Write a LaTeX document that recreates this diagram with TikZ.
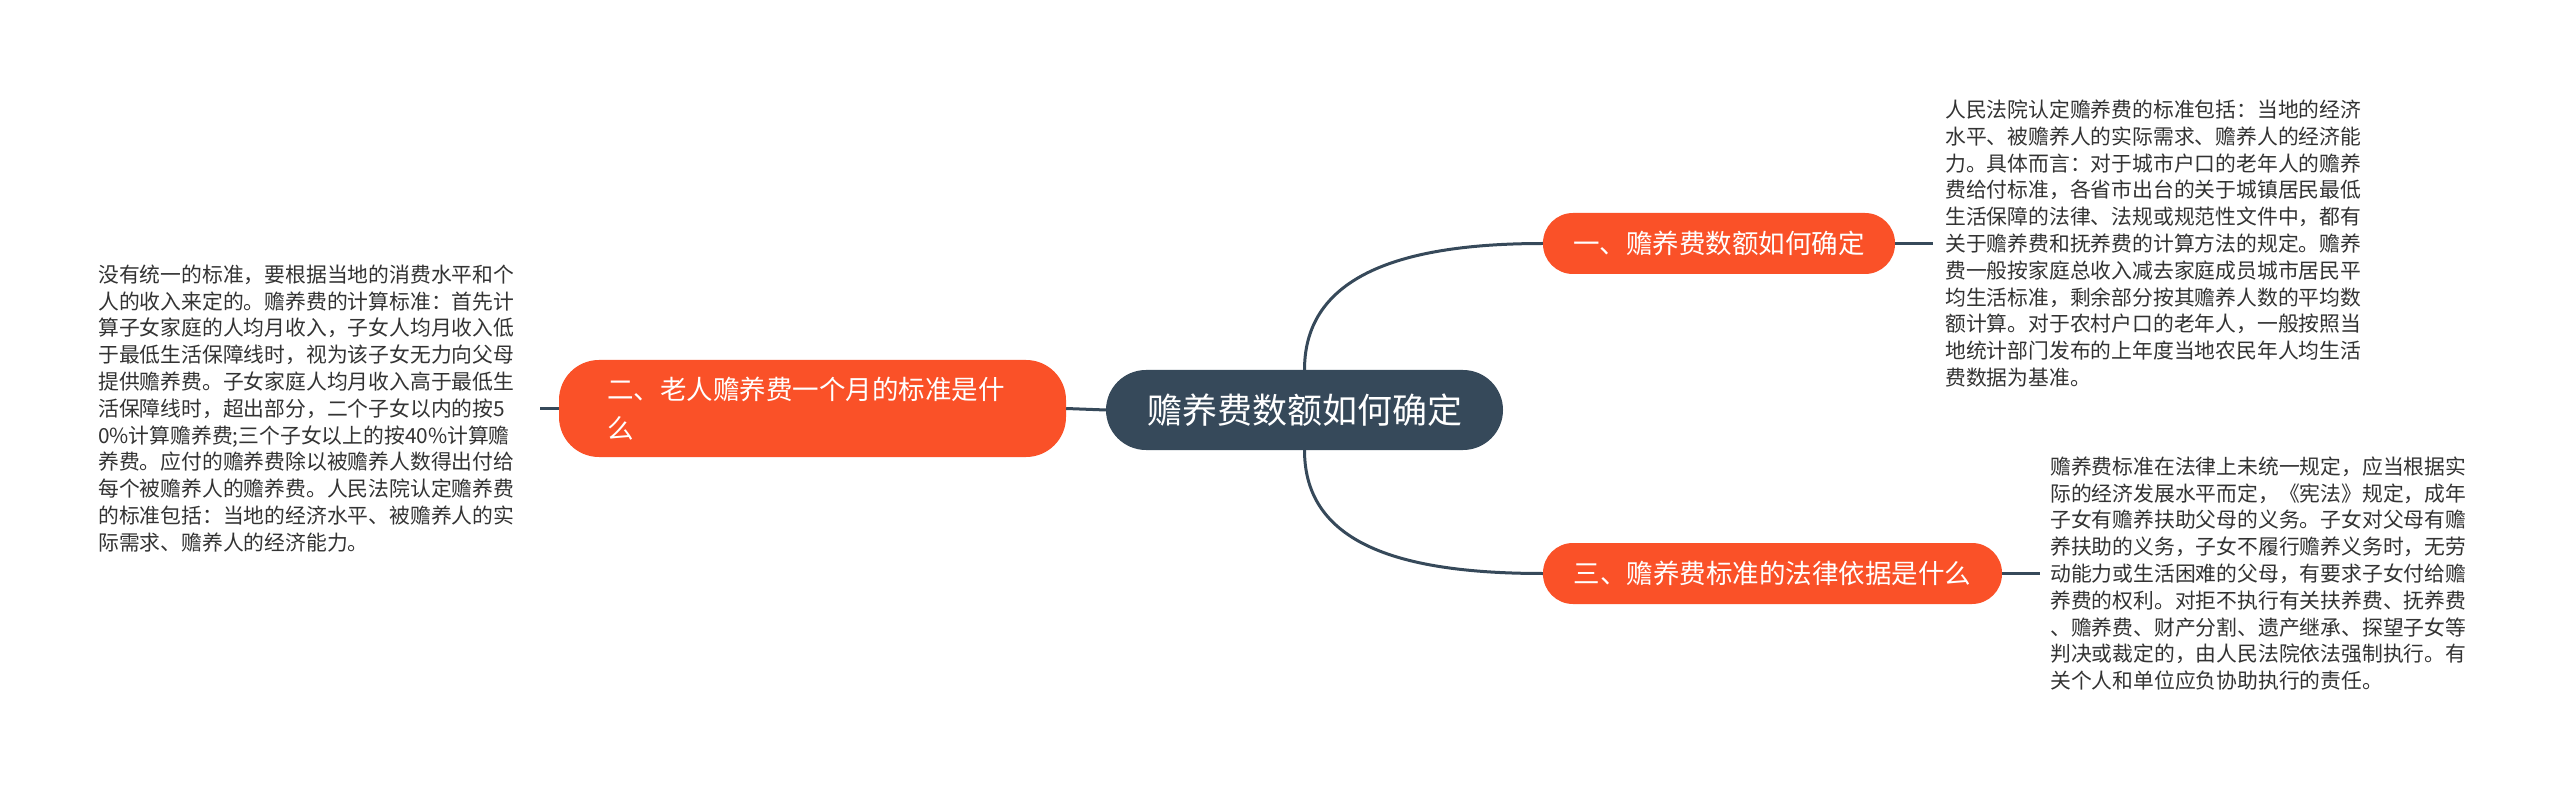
\documentclass[tikz,border=0pt]{standalone}
\usepackage{fontspec}
\newfontfamily\cjk{Noto Sans CJK SC}
\definecolor{dark}{HTML}{36495A}
\definecolor{orng}{HTML}{FA5128}
\definecolor{txt}{HTML}{333333}
\begin{document}
\begin{tikzpicture}[x=1pt,y=-1pt,
  conn/.style={draw=dark,line width=3pt},
  topic/.style={fill=orng,text=white,rounded corners=30pt,inner sep=0pt,
    font=\cjk\fontsize{26.5}{36}\selectfont,minimum height=61pt},
  desc/.style={text=txt,align=left,inner sep=0pt,
    font=\cjk\fontsize{20.8}{26.8}\selectfont}]
\fill[white] (0,0) rectangle (2560,791);
\useasboundingbox (0,0) rectangle (2560,791);

\node[fill=dark, rounded corners=40pt, minimum width=397pt, minimum height=80pt,
  inner sep=0pt, text=white, font=\cjk\fontsize{35}{40}\selectfont] (c) at (1304.5,410) {赡养费数额如何确定};

\node[topic, minimum width=352pt] (n1) at (1719,243.5) {一、赡养费数额如何确定};
\node[topic, minimum width=459pt] (n3) at (1772.5,573.5) {三、赡养费标准的法律依据是什么};
\node[fill=orng, rounded corners=40pt, minimum height=97pt, text width=411pt,
  align=left, inner xsep=48pt, inner ysep=0pt, text=white,
  font=\cjk\fontsize{26.5}{39}\selectfont] (n2) at (812.5,408.5) {二、老人赡养费一个月的标准是什\\么};

\node[desc, anchor=west, inner xsep=12pt] (t1) at (1933,243.5) {人民法院认定赡养费的标准包括：当地的经济\\
水平、被赡养人的实际需求、赡养人的经济能\\
力。具体而言：对于城市户口的老年人的赡养\\
费给付标准，各省市出台的关于城镇居民最低\\
生活保障的法律、法规或规范性文件中，都有\\
关于赡养费和抚养费的计算方法的规定。赡养\\
费一般按家庭总收入减去家庭成员城市居民平\\
均生活标准，剩余部分按其赡养人数的平均数\\
额计算。对于农村户口的老年人，一般按照当\\
地统计部门发布的上年度当地农民年人均生活\\
费数据为基准。};

\node[desc, anchor=west, inner xsep=10pt] (t3) at (2040,573.5) {赡养费标准在法律上未统一规定，应当根据实\\
际的经济发展水平而定，《宪法》规定，成年\\
子女有赡养扶助父母的义务。子女对父母有赡\\
养扶助的义务，子女不履行赡养义务时，无劳\\
动能力或生活困难的父母，有要求子女付给赡\\
养费的权利。对拒不执行有关扶养费、抚养费\\
、赡养费、财产分割、遗产继承、探望子女等\\
判决或裁定的，由人民法院依法强制执行。有\\
关个人和单位应负协助执行的责任。};

\node[desc, anchor=west] (t2) at (98,408.5) {没有统一的标准，要根据当地的消费水平和个\\
人的收入来定的。赡养费的计算标准：首先计\\
算子女家庭的人均月收入，子女人均月收入低\\
于最低生活保障线时，视为该子女无力向父母\\
提供赡养费。子女家庭人均月收入高于最低生\\
活保障线时，超出部分，二个子女以内的按5\\
0\%计算赡养费;三个子女以上的按40\%计算赡\\
养费。应付的赡养费除以被赡养人数得出付给\\
每个被赡养人的赡养费。人民法院认定赡养费\\
的标准包括：当地的经济水平、被赡养人的实\\
际需求、赡养人的经济能力。};

\coordinate (la) at (540,408.5);

\draw[conn] (n2.east) -- (c.west);
\draw[conn] (n2.west) -- (la);
\draw[conn] (c.north) .. controls +(0,-95) and +(-140,0) .. (n1.west);
\draw[conn] (c.south) .. controls +(0,95) and +(-140,0) .. (n3.west);
\draw[conn] (n1.east) -- (t1.west);
\draw[conn] (n3.east) -- (t3.west);
\end{tikzpicture}
\end{document}
